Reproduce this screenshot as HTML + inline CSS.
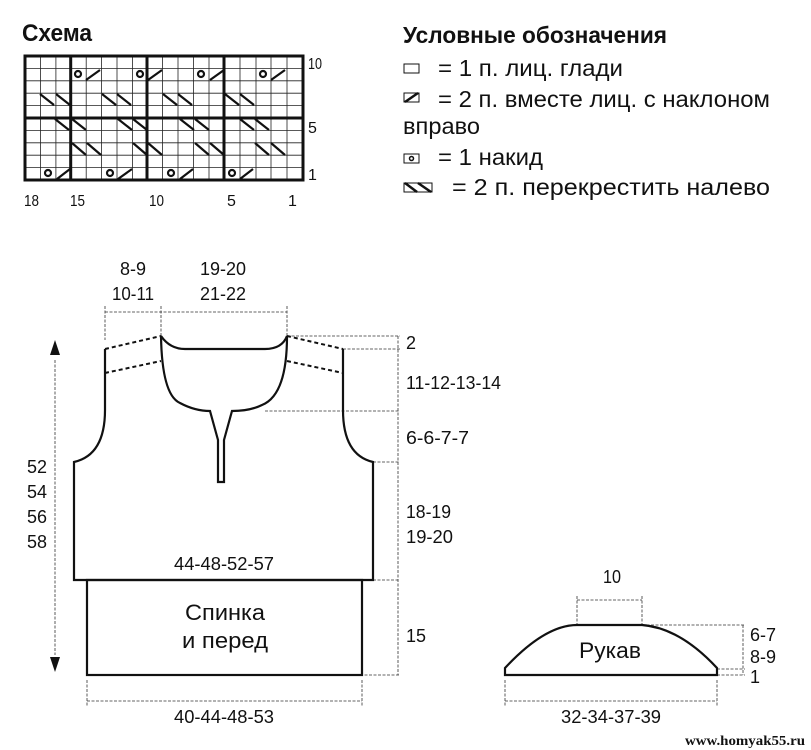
<!DOCTYPE html>
<html><head><meta charset="utf-8"><style>
html,body{margin:0;padding:0;background:#fff}
svg{display:block}
text{font-family:"Liberation Sans",sans-serif;fill:#111}
</style></head><body>
<svg width="811" height="750" viewBox="0 0 811 750" xmlns="http://www.w3.org/2000/svg">
<!-- Chart -->
<text x="22" y="41" font-size="24" font-weight="bold" textLength="70" lengthAdjust="spacingAndGlyphs">Схема</text>
<g stroke="#222" stroke-width="0.8">
<path d="M40.4 56V180M55.9 56V180M86.2 56V180M101.6 56V180M117 56V180M132.5 56V180M162.5 56V180M178 56V180M193.5 56V180M209 56V180M240 56V180M256 56V180M271 56V180M287 56V180"/>
<path d="M25 68.4H303M25 80.8H303M25 93.2H303M25 105.6H303M25 130.4H303M25 142.8H303M25 155.2H303M25 167.6H303"/>
</g>
<g stroke="#111" stroke-width="3" fill="none">
<rect x="25" y="56" width="278" height="124"/>
<path d="M70.7 56V180M147 56V180M224 56V180M25 118H303"/>
</g>
<g stroke="#111" stroke-width="2.2" fill="none">
<circle cx="78" cy="74" r="3"/><circle cx="140" cy="74" r="3"/><circle cx="201" cy="74" r="3"/><circle cx="263" cy="74" r="3"/>
<circle cx="48" cy="173" r="3"/><circle cx="110" cy="173" r="3"/><circle cx="171" cy="173" r="3"/><circle cx="232" cy="173" r="3"/>
<path d="M86 80L100 70M148 80L162 70M210 80L224 70M271 80L285 70"/>
<path d="M57 179L70 169M118 179L132 169M180 179L193 169M240 179L253 169"/>
<path d="M40 94L54 105M56 94L70 105M102 94L116 105M117 94L131 105M163 94L177 105M178 94L192 105M225 94L239 105M240 94L254 105"/>
<path d="M55 119L69 130M72 119L86 130M118 119L132 130M133 119L147 130M180 119L194 130M195 119L209 130M240 119L254 130M255 119L269 130"/>
<path d="M72 143L86 155M87 143L101 155M133 143L147 155M148 143L162 155M195 143L209 155M210 143L224 155M255 143L269 155M271 143L285 155"/>
</g>
<g font-size="16">
<text x="308" y="69" textLength="14" lengthAdjust="spacingAndGlyphs">10</text><text x="308" y="133">5</text><text x="308" y="180">1</text>
<text x="24" y="206" textLength="15" lengthAdjust="spacingAndGlyphs">18</text><text x="70" y="206" textLength="15" lengthAdjust="spacingAndGlyphs">15</text><text x="149" y="206" textLength="15" lengthAdjust="spacingAndGlyphs">10</text><text x="227" y="206">5</text><text x="288" y="206">1</text>
</g>
<!-- Legend -->
<text x="403" y="43" font-size="23" font-weight="bold" textLength="264" lengthAdjust="spacingAndGlyphs">Условные обозначения</text>
<g font-size="23">
<text x="438" y="76" textLength="185" lengthAdjust="spacingAndGlyphs">= 1 п. лиц. глади</text>
<text x="438" y="107" textLength="332" lengthAdjust="spacingAndGlyphs">= 2 п. вместе лиц. с наклоном</text>
<text x="403" y="134" textLength="77" lengthAdjust="spacingAndGlyphs">вправо</text>
<text x="438" y="165" textLength="105" lengthAdjust="spacingAndGlyphs">= 1 накид</text>
<text x="452" y="195" textLength="318" lengthAdjust="spacingAndGlyphs">= 2 п. перекрестить налево</text>
</g>
<g stroke="#111" fill="none">
<rect x="404" y="64" width="15" height="9" stroke-width="1"/>
<rect x="404" y="93" width="15" height="9" stroke-width="1"/><path d="M405 102L418 93" stroke-width="2.5"/>
<rect x="404" y="154" width="15" height="9" stroke-width="1"/><circle cx="411.5" cy="158.5" r="2" stroke-width="1.5"/>
<rect x="404" y="183" width="28" height="9" stroke-width="1"/><path d="M405 183L417 192M418 183L431 192" stroke-width="2.5"/>
</g>
<!-- Body -->
<g stroke="#333" stroke-width="0.8" fill="none" stroke-dasharray="3 1.5">
<path d="M105 312H287M105 306V340M161 306V336M287 306V336"/>
<path d="M287 336H400M343 349H400M265 411H400M373 462H400M373 580H400M360 675H400M398 336V675"/>
<path d="M87 680V706M362 680V706M87 701H362"/>
<path d="M55 360V655"/>
</g>
<path d="M55 340L50 355H60Z M55 672L50 657H60Z" fill="#111"/>
<g stroke="#111" stroke-width="2.2" fill="none">
<path d="M105 349V410Q105 455 74 462V580H373V462Q343 455 343 410V349"/>
<path d="M161 336Q162 395 180 403Q195 411 210 411L218 440V482H224V440L232 411Q250 411 262 405Q287 395 287 336"/>
<path d="M161 336Q170 349 185 349H265Q282 349 287 336"/>
<rect x="87" y="580" width="275" height="95"/>
</g>
<g stroke="#111" stroke-width="2" fill="none" stroke-dasharray="4 3">
<path d="M105 349L161 336M105 373L161 361M287 336L343 349M287 361L343 373"/>
</g>
<g font-size="18" text-anchor="middle">
<text x="133" y="275" textLength="26" lengthAdjust="spacingAndGlyphs">8-9</text><text x="133" y="300" textLength="42" lengthAdjust="spacingAndGlyphs">10-11</text>
<text x="223" y="275" textLength="46" lengthAdjust="spacingAndGlyphs">19-20</text><text x="223" y="300" textLength="46" lengthAdjust="spacingAndGlyphs">21-22</text>
<text x="224" y="570" textLength="100" lengthAdjust="spacingAndGlyphs">44-48-52-57</text>
<text x="224" y="723" textLength="100" lengthAdjust="spacingAndGlyphs">40-44-48-53</text>
</g>
<g font-size="22" text-anchor="middle">
<text x="225" y="620" textLength="80" lengthAdjust="spacingAndGlyphs">Спинка</text><text x="225" y="648" textLength="86" lengthAdjust="spacingAndGlyphs">и перед</text>
</g>
<g font-size="18">
<text x="406" y="349">2</text>
<text x="406" y="389" textLength="95" lengthAdjust="spacingAndGlyphs">11-12-13-14</text>
<text x="406" y="444" textLength="63" lengthAdjust="spacingAndGlyphs">6-6-7-7</text>
<text x="406" y="518" textLength="45" lengthAdjust="spacingAndGlyphs">18-19</text><text x="406" y="543" textLength="47" lengthAdjust="spacingAndGlyphs">19-20</text>
<text x="406" y="642" textLength="20" lengthAdjust="spacingAndGlyphs">15</text>
<text x="27" y="473" textLength="20" lengthAdjust="spacingAndGlyphs">52</text><text x="27" y="498" textLength="20" lengthAdjust="spacingAndGlyphs">54</text><text x="27" y="523" textLength="20" lengthAdjust="spacingAndGlyphs">56</text><text x="27" y="548" textLength="20" lengthAdjust="spacingAndGlyphs">58</text>
</g>
<!-- Sleeve -->
<g stroke="#333" stroke-width="0.8" fill="none" stroke-dasharray="3 1.5">
<path d="M577 600H642M577 596V625M642 596V625M642 625H745M717 669H745M717 675H745M743 625V675M505 680V706M717 680V706M505 701H717"/>
</g>
<path d="M505 675V668Q545 625 577 625H642Q680 628 717 668V675Z" stroke="#111" stroke-width="2.2" fill="none"/>
<g font-size="18">
<text x="603" y="583" textLength="18" lengthAdjust="spacingAndGlyphs">10</text>
<text x="750" y="641" textLength="26" lengthAdjust="spacingAndGlyphs">6-7</text><text x="750" y="663" textLength="26" lengthAdjust="spacingAndGlyphs">8-9</text><text x="750" y="683">1</text>
<text x="611" y="723" text-anchor="middle" textLength="100" lengthAdjust="spacingAndGlyphs">32-34-37-39</text>
</g>
<text x="610" y="658" font-size="22" text-anchor="middle" textLength="62" lengthAdjust="spacingAndGlyphs">Рукав</text>
<text x="805" y="745" font-size="14" font-weight="bold" text-anchor="end" style="font-family:'Liberation Serif',serif" textLength="120" lengthAdjust="spacingAndGlyphs">www.homyak55.ru</text>
</svg>
</body></html>
